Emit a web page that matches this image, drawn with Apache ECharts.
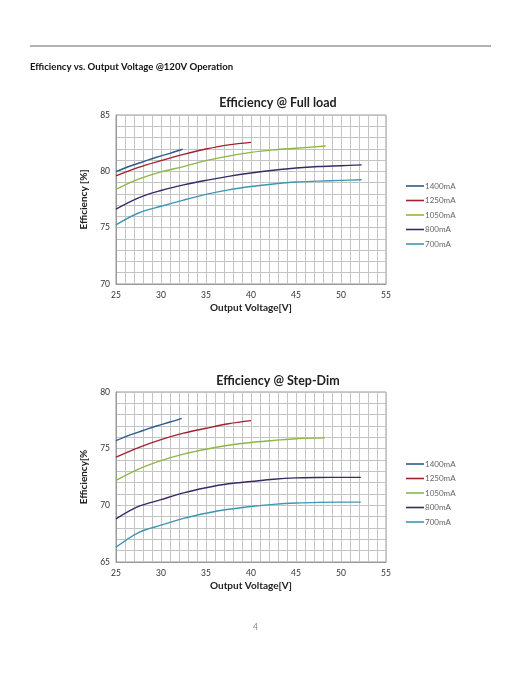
<!DOCTYPE html>
<html>
<head>
<meta charset="utf-8">
<script src="https://cdn.jsdelivr.net/npm/echarts@6/dist/echarts.min.js"></script>
<style>
  html, body { margin: 0; padding: 0; background: #fff; }
  #chart { width: 522px; height: 676px; }
</style>
</head>
<body>
<div id="chart"></div>
<script>
// series names / colours
const seriesNames = ['1400mA', '1250mA', '1050mA', '800mA', '700mA'];
const seriesColors = ['#2d5b8c', '#a3202f', '#8db843', '#3b2865', '#3c97b0'];

// Efficiency @ Full load : voltage (V) and efficiency (%)
const full1400V = [25, 26.5, 28, 29.5, 31, 32.4];
const full1400E = [79.97, 80.45, 80.85, 81.25, 81.6, 81.96];
const full1250V = [25, 27.5, 30, 32.5, 35, 37.5, 40];
const full1250E = [79.6, 80.35, 80.95, 81.5, 81.98, 82.35, 82.57];
const full1050V = [25, 27.5, 30, 32.5, 35, 37.5, 40, 42.5, 45, 48.3];
const full1050E = [78.4, 79.3, 79.95, 80.42, 80.95, 81.35, 81.68, 81.9, 82.05, 82.25];
const full800V = [25, 27.5, 30, 32.5, 35, 37.5, 40, 42.5, 45, 47.5, 50, 52.3];
const full800E = [76.65, 77.65, 78.3, 78.8, 79.2, 79.55, 79.85, 80.1, 80.3, 80.43, 80.5, 80.57];
const full700V = [25, 27.5, 30, 32.5, 35, 37.5, 40, 42.5, 45, 47.5, 50, 52.3];
const full700E = [75.25, 76.3, 76.9, 77.45, 77.95, 78.35, 78.65, 78.88, 79.05, 79.13, 79.2, 79.25];

// Efficiency @ Step-Dim
const dim1400V = [25, 26.5, 28, 29.5, 31, 32.3];
const dim1400E = [75.7, 76.2, 76.6, 77.0, 77.35, 77.68];
const dim1250V = [25, 27.5, 30, 32.5, 35, 37.5, 40];
const dim1250E = [74.25, 75.1, 75.8, 76.37, 76.8, 77.2, 77.47];
const dim1050V = [25, 27.5, 30, 32.5, 35, 37.5, 40, 42.5, 45, 48.2];
const dim1050E = [72.2, 73.2, 73.95, 74.52, 74.95, 75.3, 75.55, 75.72, 75.88, 75.95];
const dim800V = [25, 27.5, 30, 32.5, 35, 37.5, 40, 42.5, 45, 47.5, 50, 52.2];
const dim800E = [68.8, 69.9, 70.5, 71.1, 71.55, 71.9, 72.1, 72.3, 72.42, 72.46, 72.47, 72.47];
const dim700V = [25, 27.5, 30, 32.5, 35, 37.5, 40, 42.5, 45, 47.5, 50, 52.2];
const dim700E = [66.3, 67.6, 68.25, 68.85, 69.3, 69.65, 69.9, 70.08, 70.2, 70.26, 70.28, 70.28];

const fullSets = [[full1400V, full1400E], [full1250V, full1250E], [full1050V, full1050E], [full800V, full800E], [full700V, full700E]];
const dimSets = [[dim1400V, dim1400E], [dim1250V, dim1250E], [dim1050V, dim1050E], [dim800V, dim800E], [dim700V, dim700E]];

const FONT = 'Lato';

function zip(xs, ys) {
    return xs.map((x, i) => [x, ys[i]]);
}

function makeXAxis(gridIndex) {
    return {
        type: 'value',
        gridIndex: gridIndex,
        min: 25, max: 55, interval: 1,
        name: 'Output Voltage[V]',
        nameLocation: 'middle',
        nameGap: 19,
        nameTextStyle: { fontFamily: FONT, fontWeight: 'bold', fontSize: 10, color: '#222' },
        axisLine: { show: true, lineStyle: { color: '#999' } },
        axisTick: { show: false },
        axisLabel: {
            margin: 7, fontFamily: FONT, fontSize: 8.5, color: '#333',
            formatter: v => (v % 5 === 0 ? String(v) : '')
        },
        splitLine: { show: true, lineStyle: { color: '#c4c4c4', width: 1 } }
    };
}

function makeYAxis(gridIndex, min, max, name) {
    return {
        type: 'value',
        gridIndex: gridIndex,
        min: min, max: max, interval: 1,
        name: name,
        nameLocation: 'middle',
        nameGap: 14,
        nameTextStyle: { fontFamily: FONT, fontWeight: 'bold', fontSize: 10, color: '#222' },
        axisLine: { show: true, lineStyle: { color: '#999' } },
        axisTick: { show: false },
        axisLabel: {
            margin: 6, fontFamily: FONT, fontSize: 8.5, color: '#333',
            formatter: v => (v % 5 === 0 ? String(v) : '')
        },
        splitLine: { show: true, lineStyle: { color: '#c4c4c4', width: 1 } }
    };
}

function makeSeries(sets, axisIndex) {
    return sets.map((s, i) => ({
        name: seriesNames[i],
        type: 'line',
        xAxisIndex: axisIndex,
        yAxisIndex: axisIndex,
        smooth: 0.35,
        showSymbol: false,
        symbol: 'none',
        lineStyle: { width: 1.4, color: seriesColors[i] },
        itemStyle: { color: seriesColors[i] },
        data: zip(s[0], s[1])
    }));
}

function makeLegend(top) {
    return {
        data: seriesNames,
        orient: 'vertical',
        left: 401,
        top: top,
        icon: 'rect',
        itemWidth: 18,
        itemHeight: 1.6,
        itemGap: 4.5,
        selectedMode: false,
        textStyle: { fontFamily: FONT, fontSize: 8, color: '#666', lineHeight: 10, padding: [0, 0, 0, -4] }
    };
}

const chart = echarts.init(document.getElementById('chart'));
chart.setOption({
    backgroundColor: '#fff',
    animation: false,
    title: [
        {
            text: 'Efficiency @ Full load',
            left: 273, top: 91, textAlign: 'center',
            textStyle: { fontFamily: FONT, fontWeight: 'bold', fontSize: 12.5, color: '#222' }
        },
        {
            text: 'Efficiency @ Step-Dim',
            left: 273, top: 369, textAlign: 'center',
            textStyle: { fontFamily: FONT, fontWeight: 'bold', fontSize: 12.5, color: '#222' }
        }
    ],
    graphic: [
        { type: 'line', shape: { x1: 30, y1: 46, x2: 491, y2: 46 }, style: { stroke: '#666', lineWidth: 1 } },
        {
            type: 'text', left: 30, top: 62,
            style: { text: 'Efficiency vs. Output Voltage @120V Operation', font: 'bold 9.6px Lato', fill: '#111' }
        },
        {
            type: 'text', left: 253, top: 623,
            style: { text: '4', font: '8.5px Lato', fill: '#888' }
        }
    ],
    legend: [makeLegend(176), makeLegend(454)],
    grid: [
        { left: 116, top: 115, width: 270, height: 169, show: true, borderColor: '#999', borderWidth: 1 },
        { left: 116, top: 392, width: 270, height: 170, show: true, borderColor: '#999', borderWidth: 1 }
    ],
    xAxis: [makeXAxis(0), makeXAxis(1)],
    yAxis: [makeYAxis(0, 70, 85, 'Efficiency [%]'), makeYAxis(1, 65, 80, 'Efficiency[%')],
    series: makeSeries(fullSets, 0).concat(makeSeries(dimSets, 1))
});
</script>
</body>
</html>
